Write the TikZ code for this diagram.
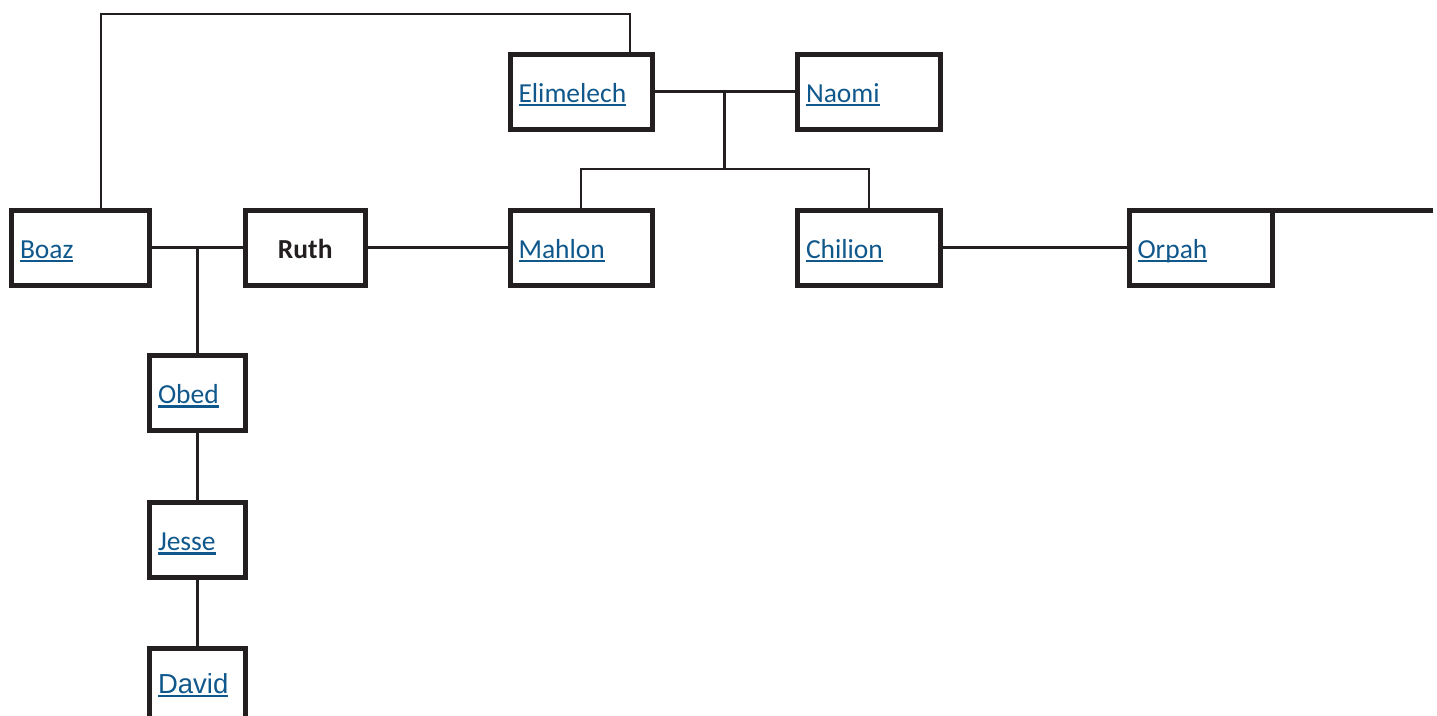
\documentclass[tikz,border=0pt]{standalone}
\usepackage{fontspec}
\setmainfont{Carlito}
\newfontfamily\arialfont{Liberation Sans}
\usetikzlibrary{calc}
\definecolor{ink}{RGB}{35,31,32}
\definecolor{linkblue}{RGB}{16,88,140}
% underlined hyperlink-style name
\newcommand\lnk[1]{\textcolor{linkblue}{\setbox0=\hbox{#1}\rlap{\rule[-4.2pt]{\wd0}{2.6pt}}\box0}}
\begin{document}
\begin{tikzpicture}[x=1pt,y=-1pt,
  every node/.style={font=\fontsize{27.5}{33}\selectfont, text=ink},
  person/.style={draw=ink, line width=5pt, rectangle, outer sep=0pt,
    inner xsep=8.5pt, inner ysep=0pt, minimum height=75pt,
    text height=21pt, text depth=0pt, align=left},
  link/.style={draw=ink, line width=2.8pt}]
\useasboundingbox (0,0) rectangle (1437,715);
\clip (0,0) rectangle (1437,715);

% first generation
\node[person, text width=125pt] (elim)  at (581,91.5)   {\lnk{Elimelech}};
\node[person, text width=126pt] (naomi) at (869,91.5)   {\lnk{Naomi}};

% second generation
\node[person, text width=121pt] (boaz)  at (80.5,247.5) {\lnk{Boaz}};
\node[person, text width=102.5pt, align=center] (ruth) at (305.25,247.5) {\textbf{Ruth}};
\node[person, text width=125pt] (mahlon)  at (581,247.5)  {\lnk{Mahlon}};
\node[person, text width=126pt] (chilion) at (869,247.5)  {\lnk{Chilion}};
\node[person, text width=126.5pt] (orpah) at (1200.75,247.5) {\lnk{Orpah}};

% descendants of Boaz and Ruth
\node[person, text width=78.5pt] (obed)  at (197.25,393)   {\lnk{Obed}};
\node[person, text width=78.5pt] (jesse) at (197.25,540)   {\lnk{Jesse}};
\node[person, text width=78.5pt, text height=14pt,
      font=\arialfont\fontsize{27.5}{33}\selectfont] (david) at (197.25,686) {\lnk{David}};

% helper coordinates for the routed lines
\coordinate (topbar) at (0,14);
\coordinate (sibbar) at (0,169);
\coordinate (orpahtail) at (1433,0);
\coordinate (couple) at ($(elim.east)!0.5!(naomi.west)$);
\coordinate (boazup) at ([xshift=20.5pt]boaz.north);
\coordinate (elimup) at ([xshift=49pt]elim.north);

% kinship links
\draw[link] (boazup) -- (boazup |- topbar) -- (elimup |- topbar) -- (elimup);
\draw[link] (elim.east) -- (naomi.west);
\draw[link] (couple) -- (couple |- sibbar);
\draw[link] (mahlon.north) -- (mahlon.north |- sibbar) -- (chilion.north |- sibbar) -- (chilion.north);
\draw[link] (boaz.east) -- (ruth.west);
\draw[link] (obed.north) -- (obed.north |- boaz.east);
\draw[link] (ruth.east) -- (mahlon.west);
\draw[link] (chilion.east) -- (orpah.west);
\draw[link] (obed.south) -- (jesse.north);
\draw[link] (jesse.south) -- (david.north);
\draw[draw=ink, line width=5pt] (orpah.north east) -- (orpah.north east -| orpahtail);
\end{tikzpicture}
\end{document}
